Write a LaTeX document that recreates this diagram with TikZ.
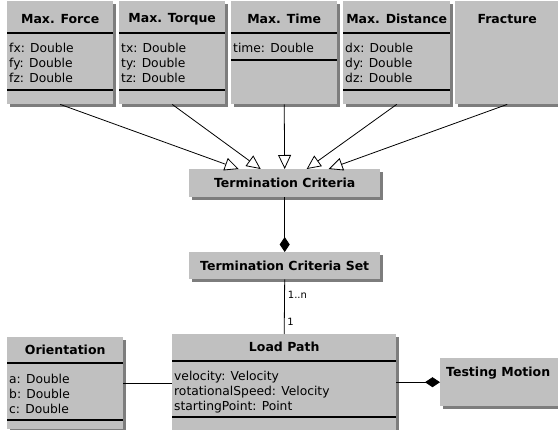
\documentclass[tikz,border=0pt]{standalone}
\usepackage{fontspec}
\setmainfont{DejaVu Sans}
\usepackage{tikz}
\usetikzlibrary{calc,shadows}
\usetikzlibrary{arrows.meta}
\definecolor{boxgray}{RGB}{192,192,192}
\definecolor{shadowgray}{RGB}{125,125,125}
\newcommand{\linethick}{0.8pt}
\newcommand{\divthick}{1.2pt}

\begin{document}
\begin{tikzpicture}[x=1pt,y=-1pt,
  classbox/.style={fill=boxgray, anchor=north west, inner sep=0,
    drop shadow={shadow xshift=2.5pt, shadow yshift=-2.5pt, fill=shadowgray, opacity=1}},
  classname/.style={font=\fontsize{12.5}{14}\selectfont\bfseries, inner sep=0},
  attrs/.style={font=\fontsize{12.3}{15}\selectfont, align=left, anchor=north west, inner sep=0},
  divider/.style={line width=\divthick},
  inherit/.style={-{Triangle[open,fill=white,length=14pt,width=13pt]}, line width=\linethick},
  compose/.style={-{Diamond[length=15pt,width=10pt]}, line width=\linethick},
  mult/.style={font=\fontsize{10}{11}\selectfont, inner sep=0, anchor=west}]
\useasboundingbox (0,0) rectangle (558,430);
%top row
\node[classbox, minimum width=106pt, minimum height=103pt] (force) at (7,1) {};
\node[classbox, minimum width=106pt, minimum height=103pt] (torque) at (119,1) {};
\node[classbox, minimum width=106pt, minimum height=103pt] (time) at (231,1) {};
\node[classbox, minimum width=107pt, minimum height=103pt] (distance) at (343,1) {};
\node[classbox, minimum width=104pt, minimum height=103pt] (fracture) at (455,1) {};
\node[classname] (force-n) at ($(force.north)+(0,18)$) {Max. Force};
\node[classname] (torque-n) at ($(torque.north)+(0,18)$) {Max. Torque};
\node[classname] (time-n) at ($(time.north)+(0,18)$) {Max. Time};
\node[classname] (distance-n) at ($(distance.north)+(0,18)$) {Max. Distance};
\node[classname] (fracture-n) at ($(fracture.north)+(0,18)$) {Fracture};
\node[attrs] (force-a) at ($(force.north west)+(2,42)$) {fx: Double\\fy: Double\\fz: Double};
\node[attrs] (torque-a) at ($(torque.north west)+(2,42)$) {tx: Double\\ty: Double\\tz: Double};
\node[attrs] (time-a) at ($(time.north west)+(2,42)$) {time: Double};
\node[attrs] (distance-a) at ($(distance.north west)+(2,42)$) {dx: Double\\dy: Double\\dz: Double};
\draw[divider] ($(force.north west)+(0,32)$) -- ($(force.north east)+(0,32)$);
\draw[divider] ($(force.north west)+(0,89)$) -- ($(force.north east)+(0,89)$);
\draw[divider] ($(torque.north west)+(0,32)$) -- ($(torque.north east)+(0,32)$);
\draw[divider] ($(torque.north west)+(0,89)$) -- ($(torque.north east)+(0,89)$);
\draw[divider] ($(time.north west)+(0,32)$) -- ($(time.north east)+(0,32)$);
\draw[divider] ($(time.north west)+(0,59)$) -- ($(time.north east)+(0,59)$);
\draw[divider] ($(distance.north west)+(0,32)$) -- ($(distance.north east)+(0,32)$);
\draw[divider] ($(distance.north west)+(0,89)$) -- ($(distance.north east)+(0,89)$);
%criteria
\node[classbox, classname, minimum width=191pt, minimum height=28pt] (crit) at (189,169) {Termination Criteria};
\node[classbox, classname, minimum width=191pt, minimum height=27pt] (critset) at (189,252) {Termination Criteria Set};
\draw[inherit] (force.south) -- ([xshift=-46pt]crit.north);
\draw[inherit] (torque.south) -- ([xshift=-24pt]crit.north);
\draw[inherit] (time.south) -- (crit.north);
\draw[inherit] (distance.south) -- ([xshift=22pt]crit.north);
\draw[inherit] (fracture.south) -- ([xshift=44pt]crit.north);
\draw[compose] (crit.south) -- (critset.north);
%load path
\node[classbox, minimum width=224pt, minimum height=110pt] (path) at (172,334) {};
\node[classname] (path-n) at ($(path.north)+(0,13)$) {Load Path};
\node[attrs] (path-a) at ($(path.north west)+(2,37)$) {velocity: Velocity\\rotationalSpeed: Velocity\\startingPoint: Point};
\draw[divider] ($(path.north west)+(0,27)$) -- ($(path.north east)+(0,27)$);
\draw[divider] ($(path.north west)+(0,83)$) -- ($(path.north east)+(0,83)$);
\draw[line width=\linethick] (critset.south) -- (path.north);
\node[mult] (many) at ($(critset.south)+(3,15)$) {1..n};
\node[mult] (one) at ($(path.north)+(3,-12)$) {1};
%orientation
\node[classbox, minimum width=116pt, minimum height=92pt] (orient) at (7,337) {};
\node[classname] (orient-n) at ($(orient.north)+(0,13)$) {Orientation};
\node[attrs] (orient-a) at ($(orient.north west)+(2,37)$) {a: Double\\b: Double\\c: Double};
\draw[divider] ($(orient.north west)+(0,26)$) -- ($(orient.north east)+(0,26)$);
\draw[divider] ($(orient.north west)+(0,83)$) -- ($(orient.north east)+(0,83)$);
\draw[line width=\linethick] (orient.east) -- (orient.east -| path.west);
%testing motion
\node[classbox, minimum width=125pt, minimum height=48pt] (motion) at (440,358) {};
\node[classname, anchor=west] (motion-n) at ($(motion.north west)+(6,15)$) {Testing Motion};
\draw[compose] (motion.west -| path.east) -- (motion.west);
\end{tikzpicture}
\end{document}
